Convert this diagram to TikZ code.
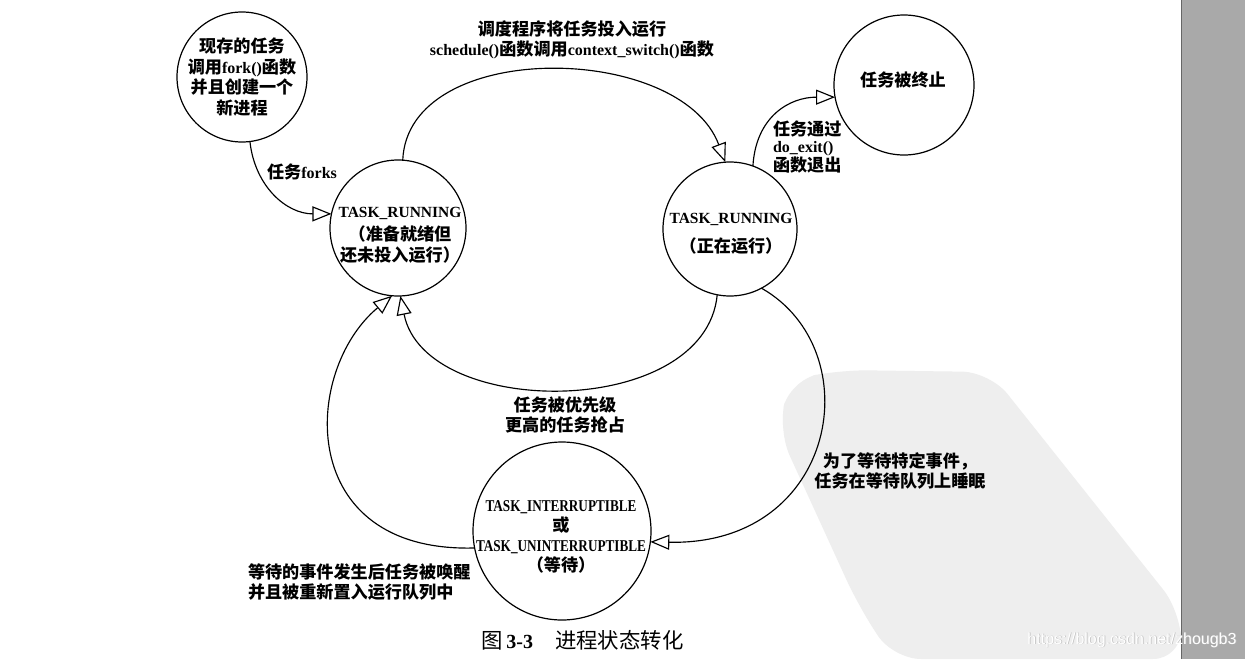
\documentclass[tikz,border=0pt]{standalone}
\usepackage{fontspec}
\setmainfont{Liberation Serif}
\newfontfamily\zhfont{Noto Sans CJK SC}[Scale=1.07]
\newfontfamily\condfont{Liberation Serif Bold}[FakeStretch=0.8]
\newfontfamily\urlfont{Liberation Sans}
\newcommand\zh[1]{{\zhfont #1}}
\usetikzlibrary{arrows.meta}
\definecolor{barcol}{HTML}{A9A9A9}
\definecolor{blobcol}{HTML}{EEEEEE}
\begin{document}
\begin{tikzpicture}[x=1pt,y=-1pt,
  every node/.style={inner sep=0pt, outer sep=0pt},
  state/.style={draw, circle, line width=1.2pt},
  conn/.style={line width=1.15pt, -{Triangle[length=19pt,width=15pt,fill=white,line width=1.15pt]}},
  txt/.style={align=center, font=\fontsize{16}{20.5}\selectfont\bfseries},
]
\useasboundingbox (0,0) rectangle (1245,659);
\fill[white] (0,0) rectangle (1245,659);
% watermark blob
\fill[blobcol, rounded corners=28pt] (778,430) -- (790,380) -- (840,370) -- (990,372) -- (1181,612) -- (1181,659) -- (893,659) -- (858,605) -- cycle;
% side bar
\fill[barcol] (1181,0) rectangle (1245,659);
\draw[line width=0.8pt, black!60] (1181,0) -- (1181,659);
% watermark url
\node[font=\urlfont\fontsize{16}{18}\selectfont, text=black!25] (urlsh) at (1132.7,640.7) {https://blog.csdn.net/zhougb3};
\node[font=\urlfont\fontsize{16}{18}\selectfont, text=white] (url) at (1132,640) {https://blog.csdn.net/zhougb3};

% states
\node[state, minimum size=130pt] (c1) at (242,77) {};
\node[state, minimum size=136pt] (c2) at (398,228) {};
\node[state, minimum size=134pt] (c3) at (730,229) {};
\node[state, minimum size=140pt] (c4) at (904,85) {};
\node[state, minimum size=178pt] (c5) at (562,531) {};

% state texts
\node[txt] (t1) at (242,77) {\zh{现存的任务}\\\zh{调用}fork()\zh{函数}\\\zh{并且创建一个}\\\zh{新进程}};
\node[txt] (t2) at (400,235) {{\fontsize{15.5}{20.5}\selectfont TASK\_RUNNING}\\[3pt]\zh{（准备就绪但}\\\zh{还未投入运行）}};
\node[txt] (t3) at (731,234) {{\fontsize{15.5}{20.5}\selectfont TASK\_RUNNING}\\[8pt]\zh{（正在运行）}};
\node[txt] (t4) at (903,80) {\zh{任务被终止}};
\node[txt, font=\fontsize{16}{20}\selectfont\bfseries] (t5) at (561,537) {{\condfont\fontsize{16.5}{20}\selectfont TASK\_INTERRUPTIBLE}\\\zh{或}\\{\condfont\fontsize{16.5}{20}\selectfont TASK\_UNINTERRUPTIBLE}\\\zh{（等待）}};

% connectors
\draw[conn] (c1.-83) .. controls +(5,45) and +(-45,0) .. (c2.168);
\draw[conn] (c2.86) .. controls +(5,-122) and +(-45,-120) .. (c3.94);
\draw[conn] (c3.70) .. controls +(3,-50) and +(-45,0) .. (c4.190);
\draw[conn] (c3.-101) .. controls +(-12,125) and +(25,124) .. (c2.-88);
\draw[conn] (c3.-62) .. controls +(109,62) and +(188,4) .. (c5.-7);
\draw[conn] (c5.191) .. controls +(-180,5) and +(-90,75) .. (c2.-95);

% labels
\node[txt] (lfork) at (302,172) {\zh{任务}forks};
\node[txt] (lsched) at (572,40) {\zh{调度程序将任务投入运行}\\schedule()\zh{函数调用}context\_switch()\zh{函数}};
\node[txt, align=left, font=\fontsize{16}{16.5}\selectfont\bfseries, anchor=west] (lexit) at (773,147) {\zh{任务通过}\\do\_exit()\\\zh{函数退出}};
\node[txt] (lpre) at (565,415) {\zh{任务被优先级}\\\zh{更高的任务抢占}};
\node[txt] (lsleep) at (900,471) {\zh{为了等待特定事件，}\\\zh{任务在等待队列上睡眠}};
\node[txt, align=left, anchor=west] (lwake) at (248,582) {\zh{等待的事件发生后任务被唤醒}\\\zh{并且被重新置入运行队列中}};
\node[anchor=west, font=\fontsize{20}{22}\selectfont] (cap) at (481,640) {\zh{图}\hspace{4pt}\textbf{3-3}\hspace{22pt}\zh{进程状态转化}};
\end{tikzpicture}
\end{document}
